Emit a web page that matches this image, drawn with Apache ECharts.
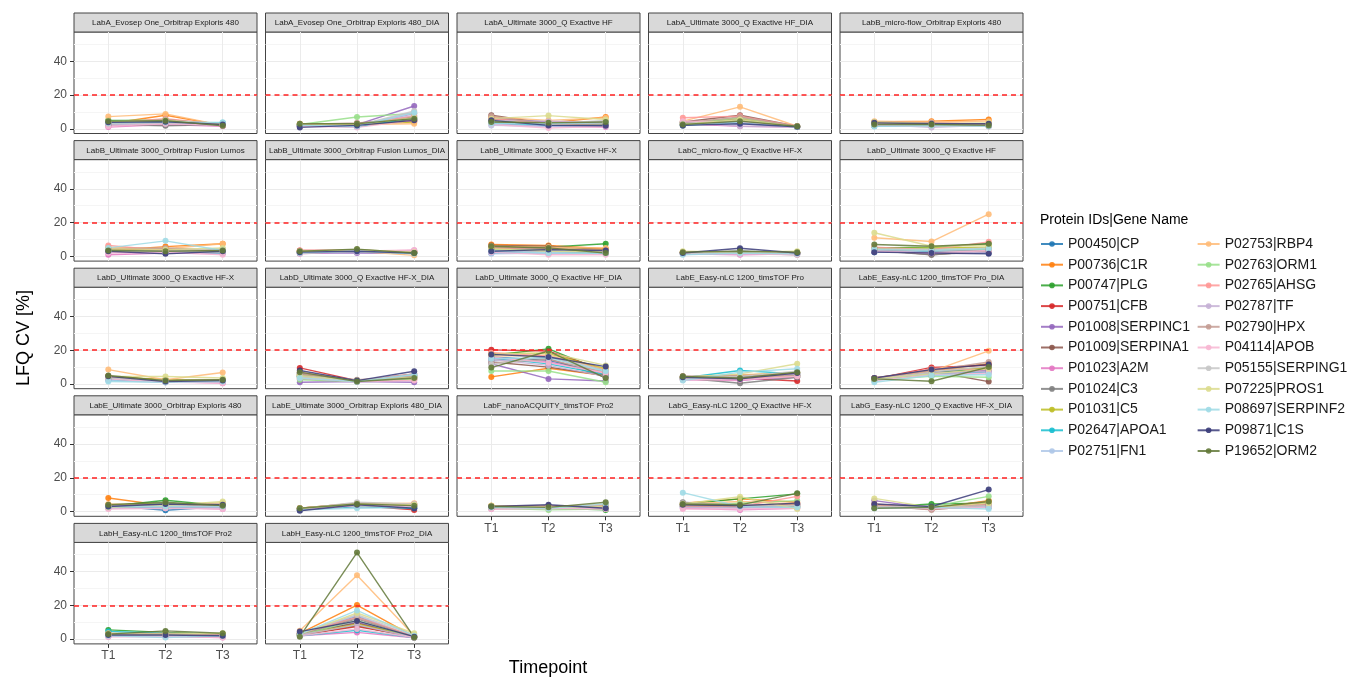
<!DOCTYPE html>
<html>
<head>
<meta charset="utf-8">
<title>LFQ CV per timepoint</title>
<script src="https://cdn.jsdelivr.net/npm/echarts@6/dist/echarts.min.js"></script>
<style>
html,body{margin:0;padding:0;background:#fff}
#main{width:1352px;height:681px}
</style>
</head>
<body>
<div id="main"></div>
<script>
var timepoints = ['T1', 'T2', 'T3'];

var proteins = ['P00450|CP', 'P00736|C1R', 'P00747|PLG', 'P00751|CFB', 'P01008|SERPINC1', 'P01009|SERPINA1',
  'P01023|A2M', 'P01024|C3', 'P01031|C5', 'P02647|APOA1', 'P02751|FN1', 'P02753|RBP4', 'P02763|ORM1',
  'P02765|AHSG', 'P02787|TF', 'P02790|HPX', 'P04114|APOB', 'P05155|SERPING1', 'P07225|PROS1',
  'P08697|SERPINF2', 'P09871|C1S', 'P19652|ORM2'];

var palette = ['#1f77b4', '#ff7f0e', '#2ca02c', '#d62728', '#9467bd', '#8c564b', '#e377c2', '#7f7f7f',
  '#bcbd22', '#17becf', '#aec7e8', '#ffbb78', '#98df8a', '#ff9896', '#c5b0d5', '#c49c94', '#f7b6d2',
  '#c7c7c7', '#dbdb8d', '#9edae5', '#393b79', '#637939'];

var panelNames = [
  'LabA_Evosep One_Orbitrap Exploris 480', 'LabA_Evosep One_Orbitrap Exploris 480_DIA',
  'LabA_Ultimate 3000_Q Exactive HF', 'LabA_Ultimate 3000_Q Exactive HF_DIA',
  'LabB_micro-flow_Orbitrap Exploris 480', 'LabB_Ultimate 3000_Orbitrap Fusion Lumos',
  'LabB_Ultimate 3000_Orbitrap Fusion Lumos_DIA', 'LabB_Ultimate 3000_Q Exactive HF-X',
  'LabC_micro-flow_Q Exactive HF-X', 'LabD_Ultimate 3000_Q Exactive HF',
  'LabD_Ultimate 3000_Q Exactive HF-X', 'LabD_Ultimate 3000_Q Exactive HF-X_DIA',
  'LabD_Ultimate 3000_Q Exactive HF_DIA', 'LabE_Easy-nLC 1200_timsTOF Pro',
  'LabE_Easy-nLC 1200_timsTOF Pro_DIA', 'LabE_Ultimate 3000_Orbitrap Exploris 480',
  'LabE_Ultimate 3000_Orbitrap Exploris 480_DIA', 'LabF_nanoACQUITY_timsTOF Pro2',
  'LabG_Easy-nLC 1200_Q Exactive HF-X', 'LabG_Easy-nLC 1200_Q Exactive HF-X_DIA',
  'LabH_Easy-nLC 1200_timsTOF Pro2', 'LabH_Easy-nLC 1200_timsTOF Pro2_DIA'];

// CV [%] at T1,T2,T3 for each protein (same order as proteins), one array per panel
var cvLabA_Evosep = [[3.5,4.5,3.0],[3.0,8.0,2.0],[5.0,5.0,2.0],[2.0,2.5,2.0],[2.5,3.0,2.5],[3.0,3.5,2.0],[1.0,2.5,1.5],[2.5,1.8,2.5],[4.0,4.0,3.0],[3.0,4.0,3.5],[2.0,3.5,2.5],[7.2,8.8,2.0],[4.5,5.5,2.0],[3.5,6.0,2.5],[2.5,3.0,2.0],[3.0,5.5,2.5],[1.5,3.0,2.0],[3.0,3.5,3.0],[4.0,5.0,2.5],[3.5,4.0,3.8],[3.8,4.2,2.5],[4.5,4.8,1.8]];
var cvLabA_Evosep_DIA = [[1.5,2.0,5.5],[2.0,2.5,5.0],[2.5,3.0,6.0],[1.5,2.0,4.5],[2.0,2.5,13.5],[2.5,3.0,7.0],[1.5,1.5,9.0],[2.0,2.0,5.5],[2.5,2.5,4.0],[2.0,1.0,6.5],[1.5,2.0,8.0],[3.0,2.5,3.0],[2.5,7.0,9.0],[3.0,2.5,7.5],[2.0,1.5,10.0],[2.5,3.5,6.0],[1.5,0.8,5.0],[2.0,2.0,10.5],[3.0,2.5,6.5],[2.0,1.5,9.5],[0.8,2.0,5.0],[3.0,3.0,6.0]];
var cvLabA_HF = [[4.5,2.0,2.0],[6.0,3.5,7.0],[4.0,3.0,3.5],[5.0,2.5,2.0],[6.5,4.0,3.0],[8.0,3.0,2.5],[3.0,1.5,1.0],[5.5,2.5,2.5],[5.0,3.5,4.0],[3.5,2.0,2.0],[2.0,1.5,1.5],[7.0,5.0,6.5],[4.5,3.5,3.0],[6.0,3.0,3.5],[5.0,4.5,4.0],[7.5,2.5,3.0],[2.5,0.5,1.5],[4.0,3.0,5.0],[6.0,7.8,5.5],[3.0,3.0,3.5],[5.0,2.0,1.8],[4.0,3.5,4.0]];
var cvLabA_HF_DIA = [[2.5,4.0,1.0],[3.0,6.0,1.2],[3.5,5.0,1.5],[2.0,4.5,1.0],[2.5,3.5,1.2],[4.0,8.0,1.5],[3.0,1.5,1.0],[3.5,5.5,1.3],[2.5,5.0,1.0],[2.0,4.0,1.0],[3.0,3.0,1.2],[4.5,13.0,1.5],[3.0,6.5,1.2],[6.5,7.5,1.5],[4.0,1.5,1.0],[3.5,7.0,1.5],[4.5,4.0,1.0],[3.0,5.0,1.2],[2.5,5.5,1.3],[2.0,3.5,1.0],[2.0,3.0,1.2],[2.5,4.5,1.5]];
var cvLabB_microflow = [[3.0,2.5,2.0],[4.0,4.5,5.5],[2.5,2.0,1.8],[2.0,2.5,2.0],[3.0,2.5,2.5],[3.5,3.0,2.0],[2.0,1.5,1.5],[2.5,2.0,1.5],[3.5,3.0,3.0],[1.5,2.0,1.8],[1.5,1.5,1.5],[4.5,4.0,4.5],[2.0,2.0,2.0],[3.0,3.5,3.0],[2.5,0.8,2.0],[4.0,3.5,2.5],[2.0,1.5,1.5],[3.0,2.0,2.0],[4.0,3.0,3.5],[1.5,1.8,1.5],[3.5,3.0,3.0],[2.5,2.5,2.0]];
var cvLabB_Lumos = [[4.0,2.0,3.0],[3.5,5.8,7.5],[3.0,3.5,3.0],[4.5,3.0,3.5],[4.0,2.5,3.0],[3.5,4.0,2.5],[1.0,2.0,1.5],[3.0,3.5,3.0],[4.0,3.0,4.0],[3.5,2.5,2.0],[2.5,2.0,2.5],[5.5,4.5,7.5],[3.0,3.0,2.5],[6.5,3.5,4.0],[2.5,3.0,2.5],[4.5,5.0,3.5],[2.0,2.5,1.0],[3.5,3.0,4.5],[4.5,4.0,5.0],[5.0,9.2,3.5],[3.0,1.5,3.0],[3.5,3.0,3.5]];
var cvLabB_Lumos_DIA = [[2.5,3.0,2.0],[3.0,3.5,2.5],[2.8,3.8,2.0],[3.5,3.5,3.0],[2.0,2.0,1.8],[2.5,3.5,2.5],[1.5,3.0,3.5],[2.5,3.0,2.0],[3.0,3.5,2.5],[2.0,3.0,2.0],[2.5,3.0,2.5],[2.0,3.0,0.6],[3.0,3.5,2.0],[3.5,3.5,3.0],[2.5,2.5,3.5],[3.0,3.5,2.5],[2.0,3.0,3.8],[2.5,3.5,2.0],[3.0,4.0,2.5],[2.0,3.0,1.5],[2.5,3.0,2.0],[3.0,4.3,2.0]];
var cvLabB_HFX = [[2.0,3.0,2.5],[7.0,6.5,4.5],[5.5,5.5,7.5],[4.5,4.0,3.0],[4.0,3.5,2.5],[6.5,6.0,4.0],[2.5,1.5,1.5],[4.0,3.5,2.0],[5.0,4.5,4.0],[3.5,3.0,2.0],[1.5,2.0,1.5],[6.0,5.5,5.0],[4.0,4.0,3.0],[5.0,4.5,3.5],[3.0,3.0,2.5],[5.5,4.5,3.5],[2.5,1.0,1.0],[3.5,3.5,3.0],[4.5,3.0,2.5],[3.0,2.0,1.8],[3.0,4.0,3.5],[6.0,5.0,2.0]];
var cvLabC_HFX = [[2.0,3.0,2.0],[2.5,2.5,1.5],[2.0,2.5,2.0],[1.5,2.0,1.5],[2.0,2.0,1.8],[2.5,2.5,2.0],[1.5,1.0,1.5],[2.0,2.0,1.0],[2.5,2.5,2.5],[1.5,2.0,1.5],[1.5,1.5,1.2],[2.0,2.5,2.0],[2.0,2.0,1.5],[2.5,2.5,2.0],[2.0,2.0,2.0],[2.5,3.0,2.0],[1.5,1.5,1.0],[2.0,2.5,2.5],[3.0,2.5,3.0],[1.0,2.0,1.5],[2.0,4.8,2.0],[2.5,3.0,2.5]];
var cvLabD_HF = [[2.5,2.5,2.0],[3.5,3.0,4.5],[5.0,5.5,7.5],[3.0,3.5,4.0],[3.0,2.5,2.5],[4.0,1.0,3.5],[3.0,3.0,4.0],[3.5,1.0,3.0],[4.5,5.0,5.5],[3.0,3.0,3.5],[2.5,2.5,3.0],[11.0,8.8,25.0],[4.0,4.5,4.0],[5.5,4.0,8.6],[3.5,2.0,2.5],[4.0,3.5,3.0],[3.0,2.0,3.5],[4.5,4.0,5.0],[14.0,6.0,6.5],[4.0,3.5,4.5],[2.5,2.0,1.5],[7.0,6.0,7.5]];
var cvLabD_HFX = [[3.5,1.5,2.0],[4.5,2.0,2.5],[4.0,2.0,2.5],[4.5,2.0,2.0],[3.5,1.5,1.5],[4.0,2.5,2.0],[3.0,1.5,0.5],[3.5,1.0,1.5],[4.5,2.5,2.0],[2.5,1.5,1.5],[2.0,1.0,1.5],[8.5,2.5,6.8],[3.5,2.0,2.5],[4.0,1.5,1.5],[3.0,1.0,1.0],[4.0,2.0,2.5],[3.0,1.0,0.5],[3.5,2.0,2.0],[4.5,4.4,3.5],[1.5,1.0,1.5],[4.5,1.5,2.0],[5.0,2.0,2.5]];
var cvLabD_HFX_DIA = [[6.0,1.5,5.0],[5.5,2.0,3.0],[4.5,2.0,4.5],[9.5,2.0,6.0],[1.0,1.5,1.0],[5.0,2.0,3.5],[3.0,1.5,2.5],[6.5,2.0,4.0],[5.5,1.8,4.0],[4.5,1.5,5.5],[4.0,1.5,3.5],[3.5,2.0,2.5],[2.5,1.5,3.0],[7.0,2.0,5.0],[4.0,2.0,3.5],[6.0,2.5,4.5],[3.5,1.5,2.0],[5.0,2.0,6.0],[4.5,2.0,4.0],[3.5,1.5,5.5],[8.0,2.0,7.5],[7.0,1.5,3.5]];
var cvLabD_HF_DIA = [[16.0,14.0,6.0],[4.2,9.3,5.0],[17.0,20.8,7.0],[20.2,19.5,8.0],[12.0,3.0,1.8],[13.0,10.0,5.0],[15.0,13.0,6.5],[14.0,15.0,4.0],[18.0,18.0,9.0],[15.5,12.0,5.5],[13.5,16.0,7.5],[16.5,17.0,8.5],[7.7,7.7,1.0],[18.5,16.5,6.0],[14.5,11.0,4.5],[12.5,14.5,7.0],[16.0,12.5,6.5],[11.5,16.5,8.0],[17.5,18.5,11.0],[15.0,15.5,7.5],[17.5,16.0,10.3],[9.7,19.5,3.5]];
var cvLabE_timsTOF = [[3.5,3.5,5.0],[4.0,4.0,6.0],[3.5,3.0,4.5],[3.0,3.5,1.8],[3.0,2.5,4.0],[4.5,4.5,5.5],[2.5,2.0,5.0],[3.5,0.4,4.0],[4.0,5.0,7.0],[3.5,8.0,6.0],[2.5,3.5,5.5],[4.0,5.5,6.5],[3.0,3.0,5.0],[3.5,3.5,4.5],[3.0,4.0,6.0],[4.5,5.0,5.0],[2.5,2.5,4.5],[3.5,4.5,7.5],[4.0,6.0,12.0],[2.0,7.0,9.0],[4.0,3.0,6.5],[4.5,3.5,7.0]];
var cvLabE_timsTOF_DIA = [[3.0,7.0,8.0],[3.5,8.0,12.0],[2.5,6.5,9.0],[3.0,9.8,11.0],[3.5,5.0,7.5],[3.0,7.5,1.4],[2.5,6.0,8.5],[3.5,7.0,10.0],[3.0,8.5,9.5],[2.5,6.0,7.0],[2.0,5.5,6.0],[3.5,7.5,19.6],[2.5,4.5,4.0],[3.0,9.0,8.5],[3.0,6.5,7.5],[3.5,8.0,13.0],[2.0,5.5,6.5],[2.5,7.0,10.5],[3.0,6.0,9.0],[1.0,5.0,5.5],[3.5,8.5,11.5],[3.0,1.6,10.0]];
var cvLabE_Exploris = [[3.5,0.8,3.0],[8.0,3.5,4.0],[3.0,6.7,3.5],[2.5,3.0,3.0],[3.0,3.5,2.5],[3.5,4.0,3.5],[2.0,2.5,1.5],[3.0,2.0,3.0],[4.0,4.5,5.0],[2.5,2.5,2.5],[2.0,2.0,2.0],[4.5,3.5,5.0],[3.0,5.0,3.5],[3.5,3.0,3.0],[2.5,3.0,2.5],[3.5,4.5,4.0],[1.5,2.0,1.5],[3.0,3.5,4.5],[2.5,3.5,6.0],[3.0,3.0,3.0],[3.0,4.5,4.0],[4.0,5.5,3.5]];
var cvLabE_Exploris_DIA = [[1.0,3.5,2.0],[1.5,4.5,3.5],[1.5,4.0,3.0],[1.0,3.5,1.0],[1.5,3.5,2.5],[2.0,4.5,4.0],[1.0,3.0,2.5],[1.5,4.0,3.0],[2.0,5.0,4.5],[1.0,3.0,2.0],[1.5,3.5,3.0],[2.0,4.5,5.0],[1.5,3.5,2.5],[2.0,5.0,4.5],[1.5,4.0,3.5],[2.0,5.0,4.0],[1.0,3.5,3.0],[1.5,5.5,4.5],[2.0,4.5,4.0],[1.0,2.0,2.5],[0.5,4.0,2.0],[2.0,4.5,3.5]];
var cvLabF_timsTOF = [[2.5,2.5,2.0],[3.5,3.0,3.0],[2.5,2.0,1.0],[2.0,2.5,2.0],[2.5,2.0,2.5],[3.0,3.0,3.5],[1.5,2.0,1.5],[2.5,2.5,2.5],[3.5,2.5,3.0],[3.0,2.5,3.5],[2.0,2.0,2.0],[3.5,3.0,4.0],[2.0,1.0,1.5],[3.0,3.0,3.5],[2.5,2.0,2.0],[3.0,2.5,3.0],[1.5,2.0,1.5],[2.5,2.5,2.5],[3.5,2.5,3.0],[2.5,2.0,4.5],[3.0,4.0,2.0],[3.0,2.5,5.5]];
var cvLabG_HFX = [[4.0,3.5,4.0],[5.0,7.5,5.5],[4.5,7.5,10.5],[3.5,3.0,4.5],[3.0,2.5,3.5],[4.0,3.0,4.0],[2.0,1.0,2.0],[5.5,3.5,3.0],[4.0,4.5,3.0],[3.0,2.5,2.5],[2.5,2.5,2.5],[4.5,6.0,4.5],[3.5,5.0,6.5],[3.0,3.0,9.0],[2.5,2.0,3.5],[3.5,3.0,4.0],[1.5,1.5,2.0],[5.0,4.0,3.5],[4.5,8.8,1.5],[11.2,3.0,2.5],[4.0,3.5,5.0],[4.5,4.0,10.8]];
var cvLabG_HFX_DIA = [[3.0,2.5,3.5],[3.5,2.0,6.5],[2.5,4.5,5.0],[3.5,1.5,4.0],[6.5,2.0,4.5],[3.0,1.5,3.0],[2.5,2.0,2.5],[3.0,2.0,4.0],[3.5,2.5,5.5],[2.5,2.5,2.5],[2.0,2.0,3.0],[4.5,2.0,6.0],[3.5,3.0,9.0],[4.0,1.5,4.5],[3.0,2.0,3.0],[3.5,1.0,4.0],[2.5,2.0,2.5],[3.0,2.5,3.5],[7.8,2.5,5.0],[2.0,2.5,1.5],[4.5,3.0,13.0],[2.0,2.5,6.0]];
var cvLabH_timsTOF = [[2.5,2.5,2.0],[3.0,3.5,2.5],[5.5,4.0,3.0],[2.0,2.5,2.0],[2.5,2.0,2.0],[3.0,3.0,2.5],[1.5,1.5,1.0],[2.5,2.0,2.0],[3.0,3.5,3.0],[4.5,3.5,2.5],[2.0,1.5,2.0],[3.5,3.0,2.5],[2.5,2.5,1.5],[3.0,2.5,2.5],[2.0,2.0,1.5],[3.0,3.5,3.0],[1.5,1.5,1.0],[2.5,2.5,2.0],[3.0,3.0,3.5],[2.0,1.0,2.0],[2.5,2.5,2.0],[3.0,4.9,3.5]];
var cvLabH_timsTOF_DIA = [[3.0,13.5,1.0],[3.5,20.2,1.5],[2.5,8.0,1.0],[2.5,7.5,1.5],[3.0,10.0,1.0],[3.5,9.5,1.5],[2.0,4.0,0.8],[3.0,12.0,1.5],[2.5,9.0,1.5],[2.0,5.3,1.0],[3.0,14.0,1.5],[5.0,37.8,2.0],[2.5,11.0,1.0],[3.5,13.0,2.0],[2.5,8.5,1.0],[3.0,12.5,1.5],[2.0,6.0,1.0],[3.5,14.5,2.5],[3.0,15.5,3.5],[3.0,17.0,2.0],[4.5,10.8,1.5],[1.5,51.3,1.0]];

var panelValues = [cvLabA_Evosep, cvLabA_Evosep_DIA, cvLabA_HF, cvLabA_HF_DIA, cvLabB_microflow,
  cvLabB_Lumos, cvLabB_Lumos_DIA, cvLabB_HFX, cvLabC_HFX, cvLabD_HF, cvLabD_HFX, cvLabD_HFX_DIA,
  cvLabD_HF_DIA, cvLabE_timsTOF, cvLabE_timsTOF_DIA, cvLabE_Exploris, cvLabE_Exploris_DIA,
  cvLabF_timsTOF, cvLabG_HFX, cvLabG_HFX_DIA, cvLabH_timsTOF, cvLabH_timsTOF_DIA];

var yMajor = [0, 20, 40];
var yMinor = [10, 30, 50];
var threshold = 20;

// layout of the facet grid
var FONT = '"Liberation Sans", Arial, sans-serif';
var nCol = 5;
var left0 = 74, pitchX = 191.5, panelW = 183;
var top0 = 13, pitchY = 127.6, stripH = 19, plotH = 101.5;

var grids = [], xAxes = [], yAxes = [], series = [], graphics = [];

panelNames.forEach(function (name, p) {
  var col = p % nCol, row = Math.floor(p / nCol);
  var x = left0 + col * pitchX;
  var stripTop = top0 + row * pitchY;
  var plotTop = stripTop + stripH;
  var hasBelow = p + nCol < panelNames.length;

  grids.push({
    left: x, top: plotTop, width: panelW, height: plotH,
    show: true, backgroundColor: '#fff', borderColor: '#444', borderWidth: 1
  });

  xAxes.push({
    gridIndex: p, type: 'value', min: 0.4, max: 3.6,
    axisLine: { show: false, onZero: false },
    axisTick: { show: !hasBelow, length: 4, customValues: [1, 2, 3], lineStyle: { color: '#333' } },
    axisLabel: {
      show: !hasBelow, customValues: [1, 2, 3], margin: 6, fontSize: 12, color: '#4d4d4d', fontFamily: FONT,
      formatter: function (v) { return timepoints[Math.round(v) - 1]; }
    },
    splitLine: { show: true, lineStyle: { color: '#ebebeb', width: 1 } }
  });

  yAxes.push({
    gridIndex: p, type: 'value', min: -2.8, max: 57.3,
    axisLine: { show: false, onZero: false },
    axisTick: { show: col === 0, length: 4, customValues: yMajor, lineStyle: { color: '#333' } },
    axisLabel: { show: col === 0, customValues: yMajor, margin: 7, fontSize: 12, color: '#4d4d4d', fontFamily: FONT },
    splitLine: { show: true, lineStyle: { color: '#ebebeb', width: 1 } }
  });
  yAxes.push({
    gridIndex: p, type: 'value', min: -2.8, max: 57.3, position: 'left',
    axisLine: { show: false, onZero: false },
    axisTick: { show: false, customValues: yMinor },
    axisLabel: { show: false },
    splitLine: { show: true, lineStyle: { color: '#f5f5f5', width: 1 } }
  });

  panelValues[p].forEach(function (vals, k) {
    var s = {
      type: 'line', name: proteins[k], xAxisIndex: p, yAxisIndex: 2 * p,
      data: vals.map(function (v, j) { return [j + 1, v]; }),
      symbol: 'circle', symbolSize: 6, showSymbol: true,
      lineStyle: { width: 1.4, color: palette[k], opacity: 0.85 },
      itemStyle: { color: palette[k], opacity: 0.9 },
      emphasis: { disabled: true }, silent: true, animation: false
    };
    if (k === proteins.length - 1) {
      s.markLine = {
        silent: true, symbol: 'none', animation: false,
        label: { show: false },
        lineStyle: { color: '#ff2020', type: [5, 4], width: 1.5, opacity: 1 },
        data: [{ yAxis: threshold }]
      };
    }
    series.push(s);
  });

  // strip header
  graphics.push({
    type: 'rect', silent: true,
    shape: { x: x, y: stripTop, width: panelW, height: stripH },
    style: { fill: '#d9d9d9', stroke: '#444', lineWidth: 1 }
  });
  graphics.push({
    type: 'text', silent: true, x: x + panelW / 2, y: stripTop + stripH / 2 + 0.5,
    style: { text: name, fontSize: 8, fill: '#1a1a1a', align: 'center', verticalAlign: 'middle', fontFamily: FONT }
  });
});

graphics.push({
  type: 'text', silent: true, x: 24, y: 338, rotation: Math.PI / 2,
  style: { text: 'LFQ CV [%]', fontSize: 18, fill: '#000', align: 'center', verticalAlign: 'middle', fontFamily: FONT }
});
graphics.push({
  type: 'text', silent: true, x: 548, y: 668,
  style: { text: 'Timepoint', fontSize: 18, fill: '#000', align: 'center', verticalAlign: 'middle', fontFamily: FONT }
});
graphics.push({
  type: 'text', silent: true, x: 1040, y: 220,
  style: { text: 'Protein IDs|Gene Name', fontSize: 14, fill: '#000', align: 'left', verticalAlign: 'middle', fontFamily: FONT }
});

var chart = echarts.init(document.getElementById('main'), null, { renderer: 'canvas' });
chart.setOption({
  animation: false,
  backgroundColor: '#fff',
  textStyle: { fontFamily: FONT },
  grid: grids,
  xAxis: xAxes,
  yAxis: yAxes,
  legend: {
    data: proteins, orient: 'vertical', left: 1040, top: 237, height: 222,
    itemWidth: 22, itemHeight: 7, itemGap: 6.7, padding: 0, selectedMode: false,
    textStyle: { fontSize: 14, color: '#1a1a1a', fontFamily: FONT }
  },
  graphic: graphics,
  series: series
});
</script>
</body>
</html>
